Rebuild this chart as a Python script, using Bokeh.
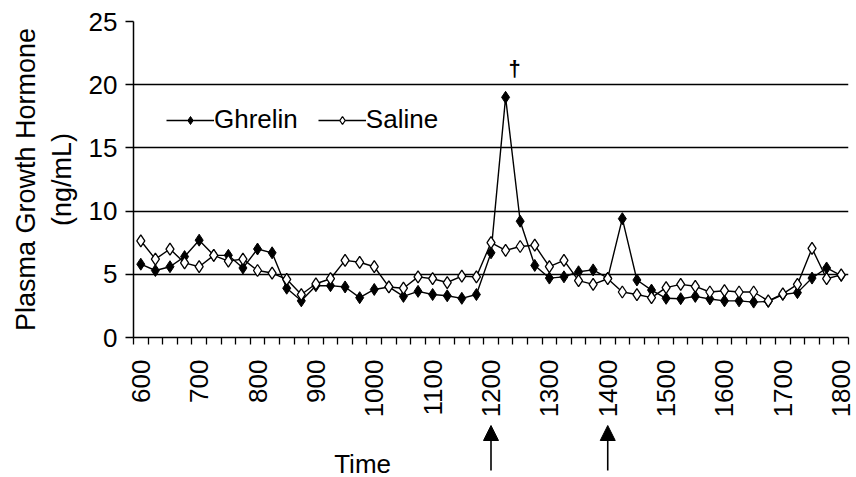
import math
from bokeh.plotting import figure
from bokeh.layouts import column
from bokeh.models import (FixedTicker, Range1d, Legend, LegendItem, Label, Arrow,
                          NormalHead, ColumnDataSource)
from bokeh.embed import file_html
from bokeh.resources import INLINE

# ---------------- data ----------------
times = list(range(600, 1801, 25))
ghrelin = [5.8, 5.3, 5.6, 6.4, 7.7, 6.5, 6.5, 5.5, 7.0, 6.7,
           3.9, 2.9, 4.1, 4.1, 4.0, 3.15, 3.8, 4.0, 3.25, 3.65,
           3.4, 3.3, 3.1, 3.4, 6.7, 19.0, 9.2, 5.7, 4.7, 4.8,
           5.2, 5.35, 4.7, 9.4, 4.55, 3.75, 3.1, 3.07, 3.25, 3.05,
           2.9, 2.9, 2.8, 2.85, 3.4, 3.55, 4.7, 5.5, 4.9]
saline = [7.65, 6.2, 7.0, 5.9, 5.6, 6.5, 6.05, 6.2, 5.3, 5.1,
          4.6, 3.4, 4.25, 4.65, 6.1, 5.95, 5.6, 4.0, 3.9, 4.8,
          4.65, 4.35, 4.85, 4.8, 7.5, 6.9, 7.2, 7.3, 5.6, 6.1,
          4.5, 4.2, 4.65, 3.6, 3.4, 3.15, 3.95, 4.2, 4.05, 3.6,
          3.7, 3.6, 3.6, 2.9, 3.45, 4.2, 7.05, 4.65, 4.95]
x_label_ticks = list(range(600, 1801, 100))
y_ticks = [0, 5, 10, 15, 20, 25]
arrow_times = [1200, 1400]
dagger_time = 1225
dagger_text = "\u2020"
series_names = ["Ghrelin", "Saline"]
y_title = "Plasma Growth Hormone\n(ng/mL)"
x_title = "Time"

FONT = "Liberation Sans"
FS = "26px"
W = 856
LEFT, RIGHT = 133, 8

half = (times[1] - times[0]) / 2
xr = Range1d(times[0] - half, times[-1] + half)
p = figure(width=W, height=420, output_backend="svg", toolbar_location=None,
           x_range=xr, y_range=Range1d(0, 25),
           min_border_left=LEFT, min_border_right=RIGHT,
           min_border_top=21, min_border_bottom=78)
p.outline_line_color = None
p.background_fill_color = "white"
p.border_fill_color = "white"

# grid
p.xgrid.visible = False
p.ygrid.grid_line_color = "black"
p.ygrid.grid_line_width = 1.3
p.ygrid.ticker = FixedTicker(ticks=y_ticks)

# x axis
xa = p.xaxis[0]
xa.ticker = FixedTicker(ticks=x_label_ticks,
                        minor_ticks=[t - half for t in times] + [times[-1] + half])
xa.major_tick_out = 0
xa.major_tick_in = 0
xa.minor_tick_out = 7
xa.minor_tick_in = 0
xa.minor_tick_line_color = "black"
xa.minor_tick_line_width = 1.3
xa.axis_line_color = "black"
xa.axis_line_width = 1.5
xa.major_label_orientation = math.pi / 2
xa.major_label_text_font = FONT
xa.major_label_text_font_size = FS
xa.major_label_text_color = "black"
xa.major_label_standoff = 15

# y axis
ya = p.yaxis[0]
ya.ticker = FixedTicker(ticks=y_ticks)
ya.major_tick_out = 8
ya.major_tick_in = 0
ya.minor_tick_out = 0
ya.minor_tick_in = 0
ya.major_tick_line_color = "black"
ya.major_tick_line_width = 1.3
ya.axis_line_color = "black"
ya.axis_line_width = 1.5
ya.major_label_text_font = FONT
ya.major_label_text_font_size = FS
ya.major_label_text_color = "black"
ya.major_label_standoff = 8
ya.axis_label = y_title
ya.axis_label_text_font = FONT
ya.axis_label_text_font_size = "27px"
ya.axis_label_text_font_style = "normal"
ya.axis_label_text_color = "black"
ya.axis_label_standoff = 9

src = ColumnDataSource(dict(t=times, g=ghrelin, s=saline))

lg = p.line("t", "g", source=src, line_color="black", line_width=1.4)
mg = p.scatter("t", "g", source=src, marker="diamond", size=12,
               fill_color="black", line_color="black", line_width=1)
ls = p.line("t", "s", source=src, line_color="black", line_width=1.4)
ms = p.scatter("t", "s", source=src, marker="diamond", size=12,
               fill_color="white", line_color="black", line_width=1.3)

legend = Legend(items=[LegendItem(label=series_names[0], renderers=[lg, mg]),
                       LegendItem(label=series_names[1], renderers=[ls, ms])],
                orientation="horizontal", location=(33, 202),
                glyph_width=48, glyph_height=20, label_standoff=0, spacing=20,
                padding=0, margin=0, border_line_color=None,
                background_fill_alpha=0, label_text_font=FONT,
                label_text_font_size=FS, label_text_color="black")
p.add_layout(legend, "center")

p.add_layout(Label(x=dagger_time, y=21.3, x_offset=9, text=dagger_text, text_font=FONT,
                   text_font_size="22px", text_font_style="bold",
                   text_align="center", text_baseline="middle", text_color="black"))

# ---- strip below the axis: arrows marking injections and the axis title ----
H2 = 57
p2 = figure(width=W, height=H2, output_backend="svg", toolbar_location=None,
            x_range=xr, y_range=Range1d(0, H2),
            x_axis_location=None, y_axis_location=None,
            min_border_left=LEFT, min_border_right=RIGHT,
            min_border_top=0, min_border_bottom=0)
p2.outline_line_color = None
p2.grid.visible = False
p2.background_fill_color = "white"
p2.border_fill_color = "white"

for t in arrow_times:
    p2.add_layout(Arrow(end=NormalHead(size=15, fill_color="black", line_color="black"),
                        x_start=t, y_start=7, x_end=t, y_end=52,
                        line_color="black", line_width=1.6))

p2.add_layout(Label(x=980, y=14, text=x_title, text_font=FONT, text_font_size=FS,
                    text_align="center", text_baseline="middle", text_color="black"))

layout = column(p, p2, spacing=0)
open("out.html", "w").write(file_html(layout, INLINE))
